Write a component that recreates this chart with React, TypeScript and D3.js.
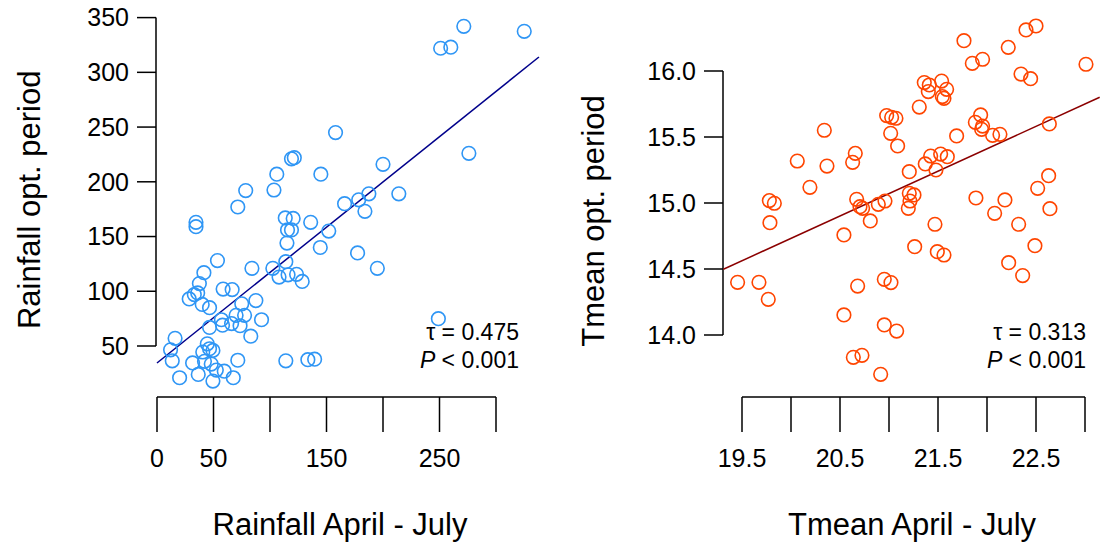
import * as d3 from "d3";

// Rainfall panel (mm)
const rainX = [271.5, 325, 251, 260, 158, 276, 119, 121.5, 106, 145, 200, 78.5, 103.5, 71.5, 34.5, 34.5, 166, 178.5, 187.5, 184, 214, 113.5, 120.5, 136, 115.5, 119, 152, 115, 144.5, 177.5, 195, 53.5, 41.5, 84, 102.5, 114, 108, 116, 123.5, 128.5, 37.5, 58.5, 66.5, 28.5, 33, 36, 40, 46.5, 75, 87.5, 70, 77.5, 57, 58, 66, 73.5, 92.5, 46.5, 83, 249, 16, 12, 13.5, 44.5, 46.5, 40.5, 49.5, 31.5, 42, 48, 71.5, 114, 133.5, 139.5, 20, 36.5, 52.5, 59.5, 49.5, 67.5];
const rainY = [342, 337.5, 322, 323, 245, 226, 221, 222, 207, 207, 216, 192, 192.5, 177, 163, 159, 180, 183.5, 189, 173, 189, 167, 166.5, 163, 156, 156, 155, 144, 140, 135, 121, 128, 117, 121, 121, 127, 113, 115, 115.5, 109, 107, 102, 101.5, 93, 97, 98.5, 88, 85, 88.5, 91.5, 78, 78, 74, 69, 70.5, 68.5, 74, 67, 59, 75, 57, 46.5, 36.5, 52, 47.5, 44.5, 46, 34.5, 36, 33.5, 37, 36.5, 37.5, 38, 21, 24, 28, 27, 18, 21];
const rainLine = { x0: 0, y0: 34.5, x1: 338, y1: 314 };
const rainXTicks = [0, 50, 100, 150, 200, 250, 300];
const rainXLabels = [0, 50, 150, 250];
const rainYTicks = [50, 100, 150, 200, 250, 300, 350];

// Temperature panel (°C)
const tX = [19.455, 19.673, 19.768, 19.779, 19.83, 19.785, 20.064, 20.193, 20.34, 20.367, 20.54, 20.54, 20.629, 20.656, 20.67, 20.704, 20.731, 20.68, 20.809, 20.891, 20.959, 20.952, 21.02, 20.952, 21.078, 20.636, 20.724, 20.915, 20.976, 21.027, 21.071, 21.017, 21.088, 21.207, 21.207, 21.255, 21.214, 21.197, 21.262, 21.309, 21.36, 21.411, 21.401, 21.537, 21.588, 21.544, 21.561, 21.37, 21.425, 21.479, 21.527, 21.595, 21.469, 21.493, 21.561, 21.69, 21.765, 21.85, 21.955, 21.881, 21.935, 21.955, 21.945, 22.057, 22.132, 21.887, 22.078, 22.183, 22.217, 22.347, 22.445, 22.398, 22.5, 22.221, 22.364, 22.323, 22.489, 22.517, 22.629, 22.642, 22.636, 23.01];
const tY = [14.399, 14.399, 14.27, 15.018, 14.998, 14.851, 15.318, 15.119, 15.551, 15.28, 14.758, 14.152, 15.308, 15.376, 15.028, 14.972, 14.96, 14.371, 14.864, 14.99, 15.015, 14.422, 14.397, 14.076, 14.03, 13.831, 13.846, 13.702, 15.662, 15.649, 15.642, 15.528, 15.432, 15.237, 15.073, 15.061, 15.015, 14.96, 14.669, 15.727, 15.912, 15.894, 15.844, 15.924, 15.861, 15.806, 15.793, 15.296, 15.356, 15.25, 15.371, 15.351, 14.839, 14.631, 14.606, 15.508, 16.23, 16.058, 16.089, 15.611, 15.667, 15.583, 15.558, 15.513, 15.52, 15.038, 14.922, 15.023, 16.179, 15.977, 15.942, 16.311, 16.341, 14.548, 14.45, 14.839, 14.677, 15.111, 15.207, 14.957, 15.599, 16.051];
const tLine = { x0: 19.31, y0: 14.498, x1: 23.15, y1: 15.801 };
const tXTicks = [19.5, 20, 20.5, 21, 21.5, 22, 22.5, 23];
const tXLabels = [19.5, 20.5, 21.5, 22.5];
const tYTicks = [14, 14.5, 15, 15.5, 16];

const FONT = "Liberation Sans, Arial, sans-serif";

function Panel(props: {
  xs: number[]; ys: number[];
  line: { x0: number; y0: number; x1: number; y1: number };
  xDomain: [number, number]; xRange: [number, number];
  yDomain: [number, number]; yRange: [number, number];
  xTicks: number[]; xLabels: number[]; yTicks: number[];
  fmt: (v: number) => string;
  axisX: number; axisY: number;
  color: string; lineColor: string;
  xTitle: string; xTitleX: number; yTitle: string; yTitleX: number;
  tau: string; noteX: number;
}) {
  const x = d3.scaleLinear().domain(props.xDomain).range(props.xRange);
  const y = d3.scaleLinear().domain(props.yDomain).range(props.yRange);
  const yt = props.yTicks;
  const xt = props.xTicks;
  const right = x(xt[xt.length - 1]);
  return (
    <g fontFamily={FONT}>
      {/* y axis */}
      <line x1={props.axisX} x2={props.axisX} y1={y(yt[0])} y2={y(yt[yt.length - 1])} stroke="#000" strokeWidth={1.5} />
      {yt.map((t) => (
        <g key={t}>
          <line x1={props.axisX - 19} x2={props.axisX} y1={y(t)} y2={y(t)} stroke="#000" strokeWidth={1.5} />
          <text x={props.axisX - 27} y={y(t)} dy="0.35em" textAnchor="end" fontSize={25}>{props.fmt(t)}</text>
        </g>
      ))}
      {/* x axis */}
      <line x1={x(xt[0])} x2={right} y1={props.axisY} y2={props.axisY} stroke="#000" strokeWidth={1.5} />
      {xt.map((t) => (
        <line key={t} x1={x(t)} x2={x(t)} y1={props.axisY} y2={props.axisY + 35} stroke="#000" strokeWidth={1.5} />
      ))}
      {props.xLabels.map((t) => (
        <text key={t} x={x(t)} y={467} textAnchor="middle" fontSize={25}>{props.fmt(t)}</text>
      ))}
      <text x={props.xTitleX} y={535} textAnchor="middle" fontSize={31}>{props.xTitle}</text>
      <text transform={`translate(${props.yTitleX},${(props.yRange[0] + props.yRange[1]) / 2 + 18}) rotate(-90)`} textAnchor="middle" fontSize={31}>{props.yTitle}</text>
      {/* regression line */}
      <line x1={x(props.line.x0)} y1={y(props.line.y0)} x2={x(props.line.x1)} y2={y(props.line.y1)} stroke={props.lineColor} strokeWidth={1.5} />
      {props.xs.map((v, i) => (
        <circle key={i} cx={x(v)} cy={y(props.ys[i])} r={6.8} fill="none" stroke={props.color} strokeWidth={1.6} />
      ))}
      <text x={props.noteX} y={340} textAnchor="end" fontSize={23}>τ = {props.tau}</text>
      <text x={props.noteX} y={368} textAnchor="end" fontSize={23}><tspan fontStyle="italic">P</tspan> &lt; 0.001</text>
    </g>
  );
}

export default function App() {
  return (
    <svg width={1100} height={547} style={{ position: "absolute", left: 0, top: 0, background: "#fff" }}>
      <Panel xs={rainX} ys={rainY} line={rainLine}
        xDomain={[0, 300]} xRange={[157, 496]} yDomain={[50, 350]} yRange={[346, 17.6]}
        xTicks={rainXTicks} xLabels={rainXLabels} yTicks={rainYTicks} fmt={(v) => String(v)}
        axisX={156} axisY={397} color="#2f96f5" lineColor="#00008b"
        xTitle="Rainfall April - July" xTitleX={340} yTitle="Rainfall opt. period" yTitleX={40} tau="0.475" noteX={519} />
      <Panel xs={tX} ys={tY} line={tLine}
        xDomain={[19.5, 23]} xRange={[742, 1085]} yDomain={[14, 16]} yRange={[335, 71]}
        xTicks={tXTicks} xLabels={tXLabels} yTicks={tYTicks} fmt={(v) => v.toFixed(1)}
        axisX={723} axisY={397} color="#ff4500" lineColor="#8b0000"
        xTitle="Tmean April - July" xTitleX={912} yTitle="Tmean opt. period" yTitleX={604} tau="0.313" noteX={1086} />
    </svg>
  );
}
